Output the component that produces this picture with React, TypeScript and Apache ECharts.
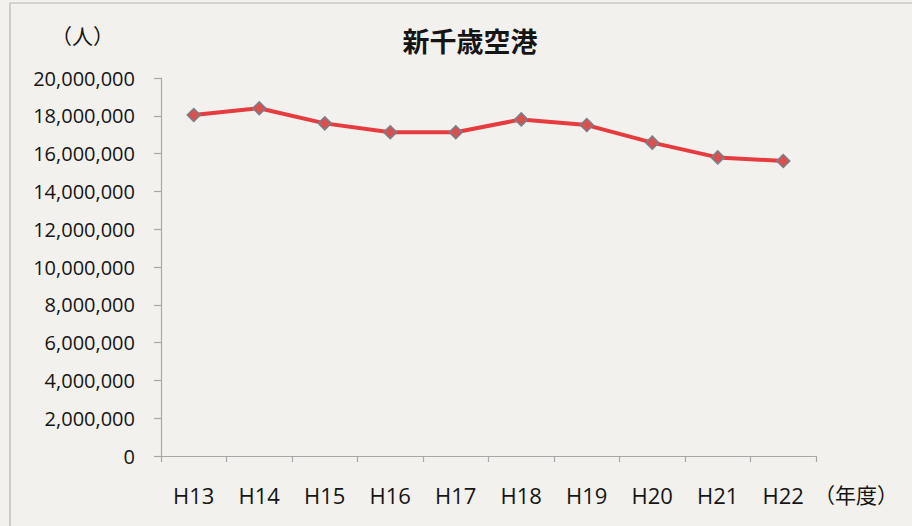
import React, { useEffect, useRef } from "react";
import * as echarts from "echarts";

const categories = ["H13", "H14", "H15", "H16", "H17", "H18", "H19", "H20", "H21", "H22"];
const passengers = [18040000, 18400000, 17600000, 17130000, 17130000, 17810000, 17510000, 16580000, 15800000, 15610000];
const yMin = 0;
const yMax = 20000000;
const yInterval = 2000000;
const titleText = "新千歳空港";
const yUnit = "（人）";
const xUnit = "（年度）";

const NUM_FONT = "'Open Sans', 'Noto Sans', sans-serif";
const CJK_FONT = "'Noto Sans CJK JP', sans-serif";

export default function App() {
  const ref = useRef<HTMLDivElement>(null);
  useEffect(() => {
    if (!ref.current) return;
    const chart = echarts.init(ref.current, null, { renderer: "svg" });
    chart.setOption({
      animation: false,
      backgroundColor: "#f2f1ed",
      title: {
        text: titleText,
        left: 465,
        top: 35,
        textAlign: "center",
        textVerticalAlign: "middle",
        textStyle: { fontFamily: CJK_FONT, fontSize: 27, fontWeight: "bold", color: "#151515" },
      },
      graphic: [
        {
          type: "rect",
          shape: { x: 10, y: 3, width: 920, height: 540 },
          style: { fill: "none", stroke: "#b5b5b5", lineWidth: 1.2 },
          silent: true,
        },
        {
          type: "text",
          x: 51,
          y: 35,
          style: { text: yUnit, fontFamily: CJK_FONT, fontSize: 21, fill: "#151515", textVerticalAlign: "middle" },
        },
        {
          type: "text",
          x: 814,
          y: 494,
          style: { text: xUnit, fontFamily: CJK_FONT, fontSize: 21, fill: "#151515", textVerticalAlign: "middle" },
        },
      ],
      grid: { left: 161, right: 96, top: 78, bottom: 70, containLabel: false },
      xAxis: {
        type: "category",
        data: categories,
        boundaryGap: true,
        axisLine: { show: true, lineStyle: { color: "#a8a8a8", width: 1.2 } },
        axisTick: { show: true, length: 6, alignWithLabel: false, lineStyle: { color: "#a8a8a8", width: 1.2 } },
        axisLabel: { margin: 28, fontFamily: NUM_FONT, fontSize: 22, color: "#151515" },
        splitLine: { show: false },
      },
      yAxis: {
        type: "value",
        min: yMin,
        max: yMax,
        interval: yInterval,
        axisLine: { show: true, lineStyle: { color: "#a8a8a8", width: 1.2 } },
        axisTick: { show: true, length: 7, lineStyle: { color: "#a8a8a8", width: 1.2 } },
        axisLabel: {
          margin: 26,
          fontFamily: NUM_FONT,
          fontSize: 20,
          color: "#151515",
          formatter: (v: number) => v.toLocaleString("en-US"),
        },
        splitLine: { show: false },
      },
      series: [
        {
          type: "line",
          data: passengers,
          symbol: "diamond",
          symbolSize: 13,
          lineStyle: { color: "#e63b3f", width: 4 },
          itemStyle: { color: "#d8514f", borderColor: "#7c7e8c", borderWidth: 1.5 },
        },
      ],
    });
    return () => chart.dispose();
  }, []);
  return <div ref={ref} style={{ position: "fixed", left: 0, top: 0, width: 912, height: 526 }} />;
}
